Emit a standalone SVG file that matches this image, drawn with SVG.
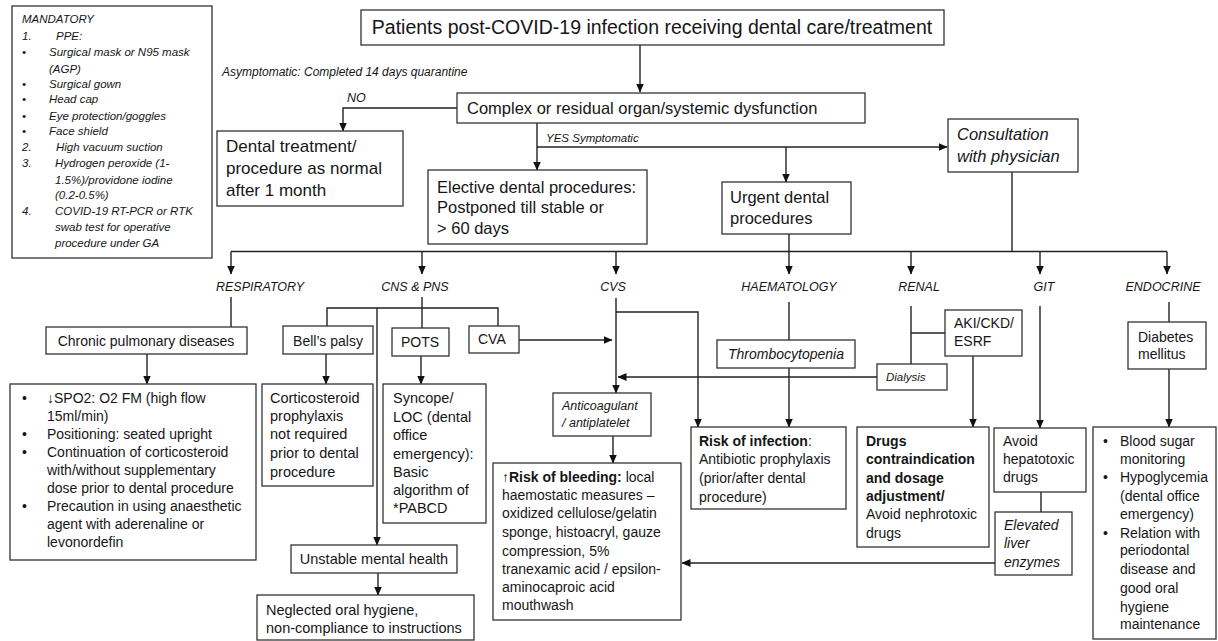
<svg xmlns="http://www.w3.org/2000/svg" width="1218" height="641" viewBox="0 0 1218 641">
<defs>
<style>
.bx{fill:#fff;stroke:#333;stroke-width:1.3}
.ln{fill:none;stroke:#222;stroke-width:1.4}
text{font-family:"Liberation Sans",Arial,sans-serif;fill:#161616}
.i{font-style:italic}
.b{font-weight:bold}
.m{font-size:11.5px;font-style:italic}
.s14{font-size:14px}
.s145{font-size:14.5px}
.s16{font-size:16.5px}
.cat{font-size:12.5px;font-style:italic;text-anchor:middle}
</style>
<marker id="ar" markerWidth="9" markerHeight="8" refX="8.5" refY="4" orient="auto" markerUnits="userSpaceOnUse">
<path d="M0,0 L9,4 L0,8 z" fill="#111"/>
</marker>
</defs>
<rect width="1218" height="641" fill="#fff"/>

<g id="connectors">
<line class="ln" x1="640" y1="45" x2="640" y2="92" stroke-width="2" marker-end="url(#ar)"/>
<polyline class="ln" points="457,108 343,108 343,131" marker-end="url(#ar)"/>
<line class="ln" x1="537" y1="123" x2="537" y2="170" stroke-width="1.8" marker-end="url(#ar)"/>
<line class="ln" x1="537" y1="147" x2="947" y2="147" marker-end="url(#ar)"/>
<line class="ln" x1="786" y1="147" x2="786" y2="182" marker-end="url(#ar)"/>
<line class="ln" x1="1012" y1="172" x2="1012" y2="251.5"/>
<line class="ln" x1="789" y1="234" x2="789" y2="251.5"/>
<line class="ln" x1="231" y1="251.5" x2="1167" y2="251.5"/>
<line class="ln" x1="231" y1="251.5" x2="231" y2="274" marker-end="url(#ar)"/>
<line class="ln" x1="422" y1="251.5" x2="422" y2="274" marker-end="url(#ar)"/>
<line class="ln" x1="616" y1="251.5" x2="616" y2="274" marker-end="url(#ar)"/>
<line class="ln" x1="789" y1="251.5" x2="789" y2="274" marker-end="url(#ar)"/>
<line class="ln" x1="911" y1="251.5" x2="911" y2="274" marker-end="url(#ar)"/>
<line class="ln" x1="1040" y1="251.5" x2="1040" y2="274" marker-end="url(#ar)"/>
<line class="ln" x1="1167" y1="251.5" x2="1167" y2="274" marker-end="url(#ar)"/>
<!-- respiratory -->
<line class="ln" x1="231" y1="297" x2="231" y2="327"/>
<line class="ln" x1="147" y1="354" x2="147" y2="384" marker-end="url(#ar)"/>
<!-- CNS -->
<line class="ln" x1="422" y1="297" x2="422" y2="328"/>
<polyline class="ln" points="327,326 327,308 498,308 498,326"/>
<line class="ln" x1="377" y1="308" x2="377" y2="545" marker-end="url(#ar)"/>
<line class="ln" x1="326" y1="354" x2="326" y2="384" marker-end="url(#ar)"/>
<line class="ln" x1="421" y1="356" x2="421" y2="384" marker-end="url(#ar)"/>
<line class="ln" x1="378" y1="573" x2="378" y2="595" marker-end="url(#ar)"/>
<line class="ln" x1="519" y1="340" x2="612" y2="340" marker-end="url(#ar)"/>
<!-- CVS -->
<line class="ln" x1="616" y1="298" x2="616" y2="393" marker-end="url(#ar)"/>
<polyline class="ln" points="616,312 698,312 698,427" marker-end="url(#ar)"/>
<line class="ln" x1="877" y1="377" x2="618" y2="377" marker-end="url(#ar)"/>
<line class="ln" x1="613" y1="436" x2="613" y2="463" marker-end="url(#ar)"/>
<!-- haematology -->
<line class="ln" x1="789" y1="302" x2="789" y2="340"/>
<line class="ln" x1="789" y1="368" x2="789" y2="427" marker-end="url(#ar)"/>
<!-- renal -->
<line class="ln" x1="911" y1="306" x2="911" y2="364"/>
<line class="ln" x1="911" y1="333" x2="945" y2="333"/>
<line class="ln" x1="973" y1="356" x2="973" y2="427" marker-end="url(#ar)"/>
<!-- GIT -->
<line class="ln" x1="1040" y1="306" x2="1040" y2="428" marker-end="url(#ar)"/>
<line class="ln" x1="1041" y1="492" x2="1041" y2="512"/>
<line class="ln" x1="995" y1="563" x2="682" y2="563" marker-end="url(#ar)"/>
<!-- endocrine -->
<line class="ln" x1="1169" y1="302" x2="1169" y2="322"/>
<line class="ln" x1="1169" y1="369" x2="1169" y2="427" marker-end="url(#ar)"/>
</g>

<g id="labels">
<text class="i" x="222" y="76" font-size="12">Asymptomatic: Completed 14 days quarantine</text>
<text class="i" x="347" y="102" font-size="12.5">NO</text>
<text class="i" x="546" y="142" font-size="11.5">YES  Symptomatic</text>
<text class="cat" x="260" y="291">RESPIRATORY</text>
<text class="cat" x="415" y="291">CNS &amp; PNS</text>
<text class="cat" x="613" y="291">CVS</text>
<text class="cat" x="789" y="291">HAEMATOLOGY</text>
<text class="cat" x="919" y="291">RENAL</text>
<text class="cat" x="1044" y="291">GIT</text>
<text class="cat" x="1163" y="291">ENDOCRINE</text>
</g>

<g id="mandatory">
<rect class="bx" x="12" y="6" width="200" height="252"/>
<text class="m" x="22" y="23">MANDATORY</text>
<text class="m" x="22" y="40">1.</text><text class="m" x="56" y="40">PPE:</text>
<text class="m" x="22" y="56">•</text><text class="m" x="49" y="56">Surgical mask or N95 mask</text>
<text class="m" x="49" y="73">(AGP)</text>
<text class="m" x="22" y="88">•</text><text class="m" x="49" y="88">Surgical gown</text>
<text class="m" x="22" y="103">•</text><text class="m" x="49" y="103">Head cap</text>
<text class="m" x="22" y="120">•</text><text class="m" x="49" y="120">Eye protection/goggles</text>
<text class="m" x="22" y="135">•</text><text class="m" x="49" y="135">Face shield</text>
<text class="m" x="22" y="151">2.</text><text class="m" x="56" y="151">High vacuum suction</text>
<text class="m" x="22" y="167">3.</text><text class="m" x="55" y="167">Hydrogen peroxide (1-</text>
<text class="m" x="55" y="184">1.5%)/providone iodine</text>
<text class="m" x="55" y="199">(0.2-0.5%)</text>
<text class="m" x="22" y="215">4.</text><text class="m" x="55" y="215">COVID-19 RT-PCR or RTK</text>
<text class="m" x="55" y="231">swab test for operative</text>
<text class="m" x="55" y="247">procedure under GA</text>
</g>

<g id="n-top">
<rect class="bx" x="361" y="10" width="583" height="35"/>
<text x="652" y="34" font-size="19.5" text-anchor="middle">Patients post-COVID-19 infection receiving dental care/treatment</text>
</g>
<g id="n-complex">
<rect class="bx" x="457" y="93" width="408" height="30"/>
<text x="467" y="114" font-size="16.5">Complex or residual organ/systemic dysfunction</text>
</g>
<g id="n-dental">
<rect class="bx" x="217" y="131" width="186" height="75"/>
<text x="226" y="152" font-size="17">Dental treatment/</text>
<text x="226" y="174" font-size="17">procedure as normal</text>
<text x="226" y="196" font-size="17">after 1 month</text>
</g>
<g id="n-elective">
<rect class="bx" x="428" y="170" width="219" height="74"/>
<text class="s16" x="437" y="193">Elective dental procedures:</text>
<text class="s16" x="437" y="213">Postponed till stable  or</text>
<text class="s16" x="437" y="234">&gt; 60 days</text>
</g>
<g id="n-urgent">
<rect class="bx" x="722" y="182" width="129" height="52"/>
<text class="s16" x="730" y="203">Urgent dental</text>
<text class="s16" x="730" y="224">procedures</text>
</g>
<g id="n-consult">
<rect class="bx" x="948" y="119" width="130" height="53"/>
<text class="s16 i" x="957" y="140">Consultation</text>
<text class="s16 i" x="957" y="162">with physician</text>
</g>

<g id="n-chronic">
<rect class="bx" x="46" y="327" width="201" height="27"/>
<text class="s14" x="146" y="346" text-anchor="middle">Chronic pulmonary  diseases</text>
</g>
<g id="n-resp-list">
<rect class="bx" x="10" y="384" width="246" height="176"/>
<g class="s14">
<text x="22" y="403">•</text><text x="47" y="403">↓SPO2: O2 FM  (high flow</text>
<text x="47" y="421">15ml/min)</text>
<text x="22" y="439">•</text><text x="47" y="439">Positioning: seated upright</text>
<text x="22" y="457">•</text><text x="47" y="457">Continuation of corticosteroid</text>
<text x="47" y="475">with/without  supplementary</text>
<text x="47" y="493">dose prior to dental procedure</text>
<text x="22" y="511">•</text><text x="47" y="511">Precaution in using anaesthetic</text>
<text x="47" y="529">agent with aderenaline or</text>
<text x="47" y="547">levonordefin</text>
</g>
</g>

<g id="n-bells">
<rect class="bx" x="283" y="326" width="90" height="28"/>
<text class="s14" x="328" y="346" text-anchor="middle">Bell’s palsy</text>
</g>
<g id="n-pots">
<rect class="bx" x="392" y="328" width="57" height="28"/>
<text class="s14" x="420" y="347" text-anchor="middle">POTS</text>
</g>
<g id="n-cva">
<rect class="bx" x="469" y="326" width="50" height="27"/>
<text class="s14" x="478" y="344">CVA</text>
</g>
<g id="n-cortico">
<rect class="bx" x="262" y="384" width="111" height="102"/>
<g class="s145">
<text x="270" y="403">Corticosteroid</text>
<text x="270" y="421">prophylaxis</text>
<text x="270" y="439">not required</text>
<text x="270" y="458">prior to dental</text>
<text x="270" y="477">procedure</text>
</g>
</g>
<g id="n-syncope">
<rect class="bx" x="383" y="384" width="103" height="139"/>
<g class="s145">
<text x="393" y="403">Syncope/</text>
<text x="393" y="422">LOC (dental</text>
<text x="393" y="440">office</text>
<text x="393" y="459">emergency):</text>
<text x="393" y="477">Basic</text>
<text x="393" y="495">algorithm of</text>
<text x="393" y="513">*PABCD</text>
</g>
</g>
<g id="n-unstable">
<rect class="bx" x="291" y="545" width="166" height="28"/>
<text class="s145" x="374" y="564" text-anchor="middle">Unstable mental health</text>
</g>
<g id="n-neglected">
<rect class="bx" x="257" y="595" width="217" height="45"/>
<text class="s145" x="266" y="615">Neglected oral hygiene,</text>
<text class="s145" x="266" y="633">non-compliance to instructions</text>
</g>

<g id="n-anticoag">
<rect class="bx" x="553" y="393" width="98" height="43"/>
<text class="i" x="562" y="410" font-size="12.5">Anticoagulant</text>
<text class="i" x="562" y="427" font-size="12.5">/ antiplatelet</text>
</g>
<g id="n-bleeding">
<rect class="bx" x="493" y="463" width="188" height="157"/>
<g class="s14">
<text x="502" y="482">↑<tspan class="b">Risk of bleeding:</tspan> local</text>
<text x="502" y="500">haemostatic measures –</text>
<text x="502" y="518">oxidized cellulose/gelatin</text>
<text x="502" y="537">sponge, histoacryl, gauze</text>
<text x="502" y="556">compression, 5%</text>
<text x="502" y="574">tranexamic acid / epsilon-</text>
<text x="502" y="592">aminocaproic acid</text>
<text x="502" y="610">mouthwash</text>
</g>
</g>

<g id="n-thrombo">
<rect class="bx" x="717" y="340" width="138" height="28"/>
<text class="i" x="786" y="359" font-size="14" text-anchor="middle">Thrombocytopenia</text>
</g>
<g id="n-infection">
<rect class="bx" x="691" y="427" width="155" height="82"/>
<g class="s14">
<text x="699" y="446"><tspan class="b">Risk of infection</tspan>:</text>
<text x="699" y="464">Antibiotic prophylaxis</text>
<text x="699" y="483">(prior/after dental</text>
<text x="699" y="502">procedure)</text>
</g>
</g>

<g id="n-aki">
<rect class="bx" x="945" y="310" width="77" height="46"/>
<text class="s14" x="954" y="328">AKI/CKD/</text>
<text class="s14" x="954" y="346">ESRF</text>
</g>
<g id="n-dialysis">
<rect class="bx" x="877" y="364" width="70" height="26"/>
<text class="i" x="886" y="381" font-size="11.5">Dialysis</text>
</g>
<g id="n-drugs">
<rect class="bx" x="857" y="427" width="132" height="120"/>
<g class="s14">
<text class="b" x="866" y="446">Drugs</text>
<text class="b" x="866" y="464">contraindication</text>
<text class="b" x="866" y="483">and dosage</text>
<text class="b" x="866" y="501">adjustment/</text>
<text x="866" y="519">Avoid nephrotoxic</text>
<text x="866" y="538">drugs</text>
</g>
</g>

<g id="n-avoid">
<rect class="bx" x="994" y="428" width="92" height="64"/>
<g class="s14">
<text x="1003" y="446">Avoid</text>
<text x="1003" y="464">hepatotoxic</text>
<text x="1003" y="482">drugs</text>
</g>
</g>
<g id="n-elevated">
<rect class="bx" x="995" y="512" width="77" height="63"/>
<g class="s14 i">
<text x="1004" y="530">Elevated</text>
<text x="1004" y="548">liver</text>
<text x="1004" y="567">enzymes</text>
</g>
</g>

<g id="n-diabetes">
<rect class="bx" x="1128" y="322" width="78" height="47"/>
<text class="s14" x="1138" y="342">Diabetes</text>
<text class="s14" x="1138" y="359">mellitus</text>
</g>
<g id="n-endo-list">
<rect class="bx" x="1093" y="427" width="123" height="212"/>
<g class="s14">
<text x="1103" y="446">•</text><text x="1120" y="446">Blood sugar</text>
<text x="1120" y="464">monitoring</text>
<text x="1103" y="482">•</text><text x="1120" y="482">Hypoglycemia</text>
<text x="1120" y="501">(dental office</text>
<text x="1120" y="519">emergency)</text>
<text x="1103" y="538">•</text><text x="1120" y="538">Relation with</text>
<text x="1120" y="555">periodontal</text>
<text x="1120" y="574">disease and</text>
<text x="1120" y="593">good oral</text>
<text x="1120" y="612">hygiene</text>
<text x="1120" y="629">maintenance</text>
</g>
</g>
</svg>
